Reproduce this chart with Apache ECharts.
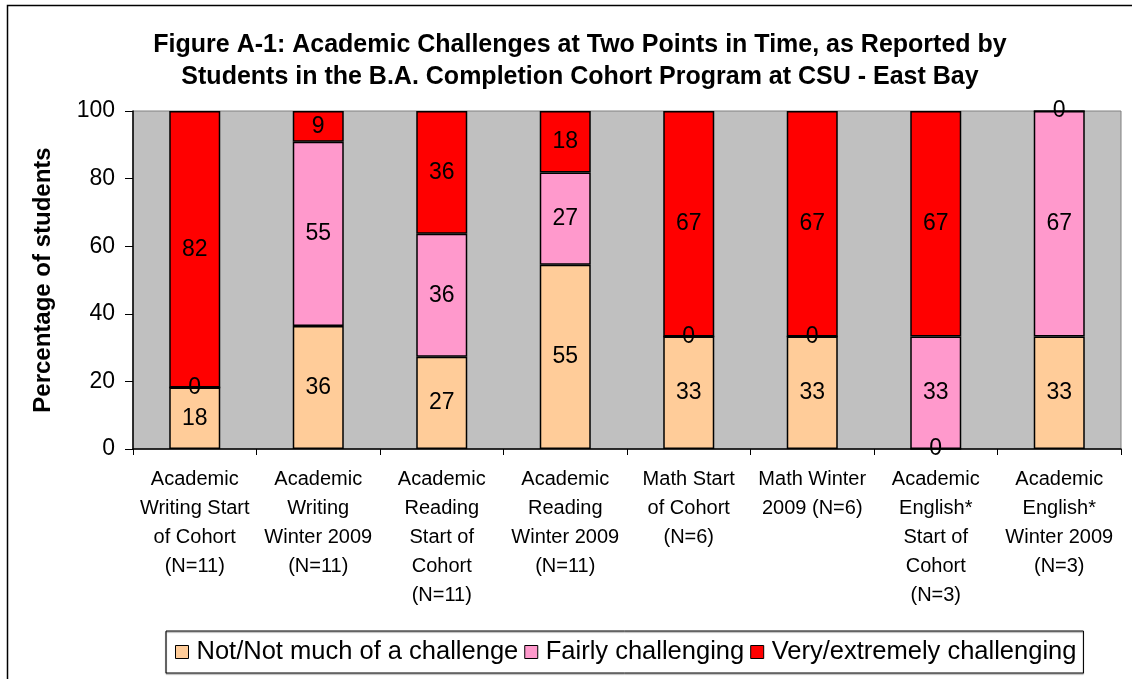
<!DOCTYPE html>
<html>
<head>
<meta charset="utf-8">
<script src="https://cdn.jsdelivr.net/npm/echarts@6/dist/echarts.min.js"></script>
<style>
  html, body { margin: 0; padding: 0; background: #fff; }
  #chart { width: 1132px; height: 679px; }
</style>
</head>
<body>
<div id="chart"></div>
<script>
// categories (x axis)
var categories = [
    'Academic\nWriting Start\nof Cohort\n(N=11)',
    'Academic\nWriting\nWinter 2009\n(N=11)',
    'Academic\nReading\nStart of\nCohort\n(N=11)',
    'Academic\nReading\nWinter 2009\n(N=11)',
    'Math Start\nof Cohort\n(N=6)',
    'Math Winter\n2009 (N=6)',
    'Academic\nEnglish*\nStart of\nCohort\n(N=3)',
    'Academic\nEnglish*\nWinter 2009\n(N=3)'
];
// percent of students, per category
var notChallenge = [18.2, 36.4, 27.3, 54.5, 33.3, 33.3, 0, 33.3];
var fairly = [0, 54.5, 36.4, 27.3, 0, 0, 33.3, 66.7];
var veryChallenge = [81.8, 9.1, 36.3, 18.2, 66.7, 66.7, 66.7, 0];
var yTicks = [0, 20, 40, 60, 80, 100];

var labelStyle = {
    show: true,
    position: 'inside',
    color: '#000',
    fontSize: 23,
    fontFamily: 'Liberation Sans',
    textBorderWidth: 0,
    formatter: function (p) { return Math.round(p.value); }
};

function barSeries(name, data, color) {
    return {
        name: name,
        type: 'bar',
        stack: 'total',
        barWidth: 51,
        data: data,
        label: labelStyle,
        itemStyle: { color: color, borderColor: '#000', borderWidth: 1.5 },
        emphasis: { disabled: true }
    };
}

var myChart = echarts.init(document.getElementById('chart'));
var option = {
    animation: false,
    textStyle: { fontFamily: 'Liberation Sans' },
    title: {
        text: 'Figure A-1: Academic Challenges at Two Points in Time, as Reported by\nStudents in the B.A. Completion Cohort Program at CSU - East Bay',
        left: 580,
        top: 29,
        padding: 0,
        textAlign: 'center',
        textStyle: { fontSize: 25, fontWeight: 'bold', color: '#000', lineHeight: 32, fontFamily: 'Liberation Sans' }
    },
    graphic: [{
        type: 'rect',
        shape: { x: 7.5, y: 5.5, width: 1300, height: 900 },
        style: { fill: null, stroke: '#000', lineWidth: 1.5 },
        silent: true
    }],
    legend: {
        data: ['Not/Not much of a challenge', 'Fairly challenging', 'Very/extremely challenging'],
        left: 166,
        top: 631,
        padding: [8, 7, 8, 9],
        borderColor: '#000',
        borderWidth: 1,
        shadowColor: 'rgba(0,0,0,0.5)',
        shadowBlur: 1,
        shadowOffsetY: 1,
        icon: 'rect',
        itemWidth: 13,
        itemHeight: 13,
        itemGap: 6,
        textStyle: { fontSize: 25.5, color: '#000', padding: [0, 0, 0, 3] },
        itemStyle: { borderColor: '#000', borderWidth: 1 }
    },
    grid: {
        left: 133,
        right: 11,
        top: 111,
        bottom: 230,
        show: true,
        backgroundColor: '#C0C0C0',
        borderColor: '#808080',
        borderWidth: 1
    },
    xAxis: {
        type: 'category',
        data: categories,
        axisLine: { lineStyle: { color: '#000', width: 1.5 } },
        axisTick: { show: true, interval: 0, length: 6, lineStyle: { color: '#000' } },
        axisLabel: { interval: 0, margin: 16, fontSize: 20, lineHeight: 29, color: '#000', align: 'center' },
        splitLine: { show: false }
    },
    yAxis: {
        type: 'value',
        min: yTicks[0],
        max: yTicks[yTicks.length - 1],
        interval: 20,
        name: 'Percentage of students',
        nameLocation: 'middle',
        nameGap: 78,
        nameTextStyle: { fontSize: 24, fontWeight: 'bold', color: '#000' },
        axisLine: { show: true, lineStyle: { color: '#000', width: 1.5 } },
        axisTick: { show: true, length: 8, lineStyle: { color: '#000' } },
        axisLabel: { fontSize: 23, color: '#000', margin: 18 },
        splitLine: { show: false }
    },
    series: [
        barSeries('Not/Not much of a challenge', notChallenge, '#FFCC99'),
        barSeries('Fairly challenging', fairly, '#FF99CC'),
        barSeries('Very/extremely challenging', veryChallenge, '#FF0000')
    ]
};
myChart.setOption(option);
</script>
</body>
</html>
